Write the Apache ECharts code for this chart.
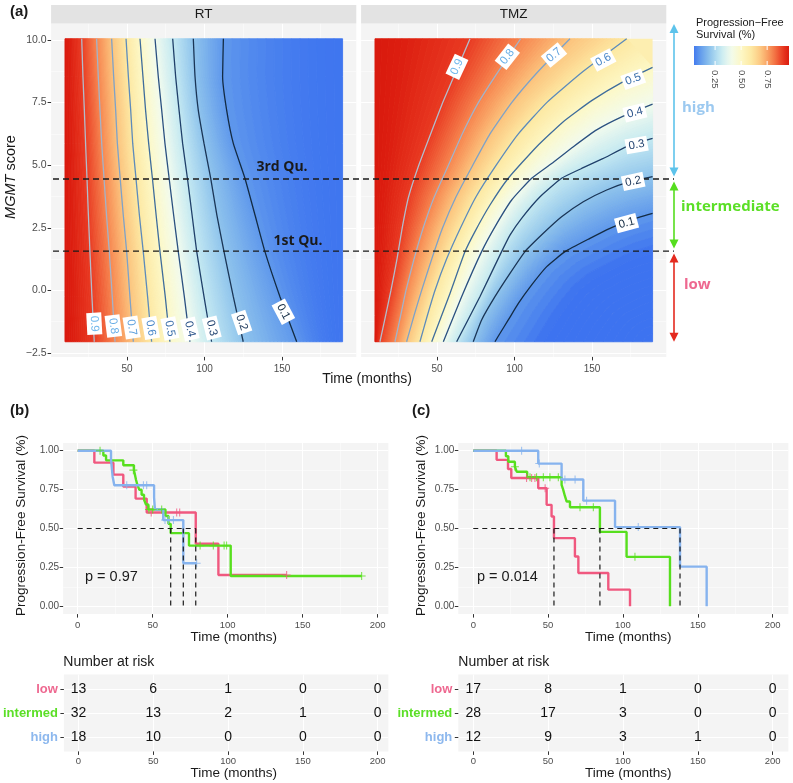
<!DOCTYPE html>
<html>
<head>
<meta charset="utf-8">
<script src="https://cdn.jsdelivr.net/npm/echarts@6.0.0/dist/echarts.min.js"></script>
<style>
html,body{margin:0;padding:0;background:#ffffff;}
#chart{width:793px;height:783px;}
</style>
</head>
<body>
<div id="chart"></div>
<script>
// ================= DATA =================
const contourLevels = [0.9, 0.8, 0.7, 0.6, 0.5, 0.4, 0.3, 0.2, 0.1];
const rasterX = [10, 189.1];            // months covered by the surface
const rasterY = [-2.05, 10.05];         // MGMT score covered by the surface
const rasterEdgeValues = [0.97, 0.04];  // survival at the far-left / far-right edge
const tmzCoreValue = 0.035;             // deepest blue in the TMZ low corner
const mgmtQuartiles = [1.57, 4.45];     // 1st Qu., 3rd Qu.

// RT panel: contour x (months) at shared MGMT rows
const rtRows = [10.05, 8.54, 7.2, 5.87, 4.48, 3.01, 1.55, -0.25, -2.05];
const rt90 = [20.8, 21.6, 22.5, 23.3, 24.2, 25.1, 26.1, 27.4, 28.9];
const rt80 = [30.4, 31.5, 32.6, 33.7, 35.2, 36.8, 38.6, 40.5, 42.3];
const rt70 = [40.1, 41.4, 42.7, 43.8, 45.6, 47.6, 49.8, 51.9, 54.1];
const rt60 = [49.4, 50.9, 52.4, 53.7, 55.8, 58.0, 60.5, 63.3, 65.9];
const rt50 = [58.4, 60.3, 62.0, 64.0, 66.4, 68.8, 71.3, 74.7, 77.7];
const rt40 = [68.1, 70.2, 72.4, 74.5, 77.2, 80.1, 83.1, 87.0, 90.6];
const rt30 = [79.5, 81.4, 83.6, 85.9, 89.0, 92.0, 95.0, 99.7, 104.6];
const rt20 = [92.8, 93.9, 96.0, 99.7, 104.0, 108.0, 112.6, 118.6, 125.0];
const rt10 = [112.2, 111.7, 114.3, 118.6, 126.1, 132.6, 139.0, 148.7, 159.5];

// TMZ panel: contour points [months, MGMT score]
const tmzRows = [10.05, 8.75, 7.5, 6.25, 4.99, 3.74, 2.51, 1.25, 0.0, -1.0, -2.05];
const tmz90x = [71.3, 62.3, 53.7, 45.9, 38.2, 31.7, 27.6, 24.2, 20.3, 16.9, 13.2];
const tmz80x = [104.0, 89.6, 76.7, 66.3, 57.3, 48.3, 41.2, 35.2, 30.0, 26.6, 22.9];
const tmz70x = [135.8, 115.4, 98.2, 84.2, 73.0, 62.3, 53.7, 46.6, 40.1, 35.2, 30.4];
const tmz60x = [172.4, 144.4, 120.8, 102.5, 88.1, 75.2, 65.3, 56.2, 48.7, 43.8, 39.0];
const tmz50 = [[189.1,8.91],[170.2,8.34],[149.8,7.58],[131.5,6.74],[114.3,5.74],[96.0,4.48],[84.2,3.41],[74.5,2.35],[68.1,1.55],[58.4,-0.12],[46.6,-2.05]];
const tmz40 = [[189.1,7.44],[170.2,6.96],[153.0,6.41],[138.0,5.74],[124.0,5.07],[111.1,4.48],[98.2,3.61],[87.4,2.54],[78.8,1.55],[65.9,-0.25],[54.1,-2.05]];
const tmz30 = [[189.1,6.07],[172.4,5.74],[157.3,5.27],[143.3,4.87],[130.4,4.48],[116.5,3.74],[104.6,2.88],[97.1,2.21],[91.7,1.55],[77.7,-0.25],[62.7,-2.05]];
const tmz20 = [[189.1,4.54],[174.5,4.34],[159.5,4.01],[144.4,3.54],[130.4,2.94],[118.6,2.28],[106.8,1.55],[97.1,0.68],[87.4,-0.25],[78.8,-1.18],[73.4,-2.05]];
const tmz10 = [[189.1,3.08],[174.5,2.81],[161.6,2.48],[148.7,2.08],[132.6,1.55],[120.8,0.95],[111.1,0.22],[102.5,-0.52],[96.0,-1.18],[90.6,-1.72],[87.4,-2.05]];

// contour label anchors [months, MGMT] and angles (deg)
const rtLabelPos = [[28.9,-1.33],[41.2,-1.42],[53.0,-1.48],[65.3,-1.50],[77.7,-1.52],[90.6,-1.54],[104.7,-1.50],[124.0,-1.28],[150.9,-0.85]];
const rtLabelAngle = [-87, -83, -81, -80, -79, -77, -76, -71, -62];
const tmzLabelPos = [[62.9,8.93],[95.4,9.33],[125.5,9.40],[157.3,9.20],[176.6,8.43],[177.7,7.10],[178.8,5.81],[176.6,4.35],[172.3,2.69]];
const tmzLabelAngle = [65, 52, 40, 28, 20, 14, 10, 12, 15];

// colour bar
const colorbarRange = [0.047, 0.96];
const colorbarTicks = [0.25, 0.5, 0.75];

// axis ticks
const mgmtTicks = [-2.5, 0, 2.5, 5, 7.5, 10];
const mgmtMinor = [-1.25, 1.25, 3.75, 6.25, 8.75];
const timeTicksA = [50, 100, 150];
const timeMinorA = [25, 75, 125, 175];
const timeTicksKM = [0, 50, 100, 150, 200];
const timeMinorKM = [25, 75, 125, 175];
const survTicks = [0, 0.25, 0.5, 0.75, 1];
const survMinor = [0.125, 0.375, 0.625, 0.875];

// Kaplan-Meier (b) RT
const groupNames = ['low', 'intermed', 'high'];
const kmRtLow  = [[0,1],[11.1,0.923],[23.8,0.846],[30.4,0.769],[38.6,0.692],[46,0.603],[78.7,0.402],[93.8,0.201],[139.3,0.201]];
const kmRtMid  = [[0,1],[17.1,0.969],[18.9,0.938],[30.4,0.906],[37.5,0.875],[38.2,0.843],[38.9,0.812],[39.8,0.78],[41.1,0.749],[42.6,0.717],[44.2,0.686],[45.5,0.654],[47.1,0.622],[58.5,0.58],[60.5,0.53],[62,0.47],[74.2,0.39],[102,0.195],[189.3,0.195]];
const kmRtHigh = [[0,1],[22.2,0.944],[23.3,0.833],[24.4,0.778],[50.9,0.7],[51.5,0.622],[57,0.554],[70.4,0.277],[79.3,0.277]];
const censRtLow  = [[49,0.603],[66,0.603],[68,0.603],[139.3,0.201]];
const censRtMid  = [[14.9,1],[37.1,0.875],[47.5,0.622],[50,0.622],[56,0.622],[81.6,0.39],[90.4,0.39],[97.6,0.39],[99.3,0.39],[189.3,0.195]];
const censRtHigh = [[32.7,0.778],[43.8,0.778],[46,0.778],[58.2,0.554],[60.4,0.554],[63.8,0.554],[79.3,0.277]];
const medRt = [78.7, 62, 70.4];
const riskTimes = [0, 50, 100, 150, 200];
const riskRtLow = [13, 6, 1, 0, 0];
const riskRtMid = [32, 13, 2, 1, 0];
const riskRtHigh = [18, 10, 0, 0, 0];
const pRt = 'p = 0.97';

// Kaplan-Meier (c) TMZ
const kmTmzLow  = [[0,1],[15.6,0.941],[23.2,0.882],[25.4,0.824],[43.4,0.759],[49,0.652],[52.3,0.577],[53.9,0.438],[67.9,0.32],[70.2,0.214],[90.2,0.107],[104.7,0]];
const kmTmzMid  = [[0,1],[21.8,0.964],[23.4,0.929],[27.8,0.897],[29,0.865],[36,0.829],[59,0.78],[60.1,0.748],[61.2,0.709],[62.4,0.673],[64.6,0.637],[84.6,0.478],[102.4,0.318],[131.4,0]];
const kmTmzHigh = [[0,1],[43.4,0.917],[59,0.815],[73.5,0.679],[94.7,0.509],[138.1,0.255],[155.9,0]];
const censTmzLow  = [[35.6,0.824],[39,0.824],[41.2,0.824],[48,0.759]];
const censTmzMid  = [[27.8,0.897],[37.9,0.829],[42.3,0.829],[46.8,0.829],[51.2,0.829],[56.8,0.829],[71.3,0.637],[80.2,0.637],[108,0.318]];
const censTmzHigh = [[32.3,1],[44.1,0.917],[61.2,0.815],[68,0.815],[75.7,0.679],[110.2,0.509]];
const medTmz = [53.9, 84.6, 138.1];
const riskTmzLow = [17, 8, 1, 0, 0];
const riskTmzMid = [28, 17, 3, 0, 0];
const riskTmzHigh = [12, 9, 3, 1, 0];
const pTmz = 'p = 0.014';

// ================= STYLE =================
const FONT = "'Liberation Sans', Arial, Helvetica, sans-serif";
const BOLDF = "'Open Sans', 'Liberation Sans', Arial, sans-serif";
const fillStops = [[0.00,'#366bf0'],[0.03,'#3a70f0'],[0.10,'#5f98ec'],[0.20,'#8fc4ec'],[0.30,'#c4e9f2'],
  [0.40,'#f2fbee'],[0.50,'#fdf8c6'],[0.60,'#fde8a2'],[0.70,'#fcc27c'],[0.80,'#f6844e'],
  [0.90,'#e93a22'],[0.95,'#dc1e10'],[1.00,'#d4140a']];
const contourLineColors = ['#b2bccb','#a3b3c9','#7ea2c8','#5d8bbb','#3f6d9c','#2b5180','#20406a','#1a3556','#132b43'];
const contourLabelColors = ['#6fb7ec','#66ade6','#5a9edc','#4b88c9','#3b6faa','#2c548a','#224370','#1b3659','#132b43'];
const groupColors = ['#F0587F', '#57DF1E', '#86B3EE'];
const groupLabelColors = ['#EE6890', '#5BDF26', '#8DB8EE'];
const arrowColors = ['#5DC3EB', '#55DD1E', '#E42A1F']; // high, intermediate, low
const axisYMaxA = 10.655, axisYMinA = -2.655;

function hexRgb(h){return [parseInt(h.slice(1,3),16),parseInt(h.slice(3,5),16),parseInt(h.slice(5,7),16)];}
function fillColor(v){
  v = Math.max(0, Math.min(1, v));
  for (let i = 0; i < fillStops.length - 1; i++) {
    const a = fillStops[i], b = fillStops[i+1];
    if (v <= b[0]) {
      const t = (v - a[0]) / (b[0] - a[0]);
      const ca = hexRgb(a[1]), cb = hexRgb(b[1]);
      return 'rgb(' + ca.map((x,k)=>Math.round(x + (cb[k]-x)*t)).join(',') + ')';
    }
  }
  return fillStops[fillStops.length-1][1];
}
function lin(x,y,x2,y2,stops){return {type:'linear',x:x,y:y,x2:x2,y2:y2,colorStops:stops,global:true};}

// fill the band between boundary A (value la) and boundary B (value lb) with thin solid strips
function stripBand(api, A, B, la, lb, n, ease){
  const PA = A.map(p=>api.coord(p)), PB = B.map(p=>api.coord(p));
  const at = s => PA.map((a,i)=>[a[0]+(PB[i][0]-a[0])*s, a[1]+(PB[i][1]-a[1])*s]);
  const kids = [];
  for (let j = 0; j < n; j++) {
    const s0 = j/n, s1 = (j+1)/n, sm = (j+0.5)/n;
    const e = ease ? ease(sm) : sm;
    const col = fillColor(la + (lb-la)*e);
    kids.push({type:'polygon', shape:{points: at(s0).concat(at(s1).reverse())},
      style:{fill:col, stroke:col, lineWidth:0.9}});
  }
  return kids;
}
const easeOut = s => 1 - (1-s)*(1-s);
const easeFast = s => Math.min(1, s/0.3);

// chains of boundaries for the surfaces
const rtContours = [rt90,rt80,rt70,rt60,rt50,rt40,rt30,rt20,rt10].map(xs=>xs.map((x,i)=>[x,rtRows[i]]));
const rtChain = [rtRows.map(y=>[rasterX[0],y])].concat(rtContours, [rtRows.map(y=>[rasterX[1],y])]);
const rtChainLv = [rasterEdgeValues[0]].concat(contourLevels, [rasterEdgeValues[1]]);
const tmzContours = [tmz90x,tmz80x,tmz70x,tmz60x].map(xs=>xs.map((x,i)=>[x,tmzRows[i]])).concat([tmz50,tmz40,tmz30,tmz20,tmz10]);
const tmzChain = [tmzRows.map(y=>[rasterX[0],y])].concat(tmzContours);
const tmzChainLv = [rasterEdgeValues[0]].concat(contourLevels);

// ================= AXES & GRIDS =================
const grids = [
  {left:51.1, top:23.6, width:305.2, height:333.3, show:true, backgroundColor:'#f4f4f4', borderWidth:0}, // 0 RT
  {left:361.1, top:23.6, width:305.2, height:333.3, show:true, backgroundColor:'#f4f4f4', borderWidth:0}, // 1 TMZ
  {left:53, top:23.6, width:621, height:333.3, show:false}, // 2 overlay
  {left:694, top:46, width:95, height:19, show:false}, // 3 colorbar
  {left:63.15, top:442.9, width:325.2, height:171.2, show:true, backgroundColor:'#f4f4f4', borderWidth:0}, // 4 KM b
  {left:63.15, top:674.6, width:325.2, height:76.8, show:true, backgroundColor:'#f4f4f4', borderWidth:0}, // 5 risk b
  {left:458.3, top:442.9, width:330.1, height:171.2, show:true, backgroundColor:'#f4f4f4', borderWidth:0}, // 6 KM c
  {left:458.3, top:674.6, width:330.1, height:76.8, show:true, backgroundColor:'#f4f4f4', borderWidth:0}  // 7 risk c
];
const xA = [], yA = [];
function axis(gridIndex,min,max,o){
  o = o || {};
  const a = {type:'value', gridIndex:gridIndex, min:min, max:max, inverse:!!o.inverse,
    axisLine:{show:false, onZero:false},
    axisTick:{show:!!o.showTicks, length:3.5, lineStyle:{color:'#333333', width:1}},
    axisLabel:{show:!!o.labels, color:'#4d4d4d', fontSize:o.fontSize||10, fontFamily:FONT, margin:o.margin||4, rotate:o.rotate||0},
    splitLine:{show:!!o.split, lineStyle:{color:'#ffffff', width:o.splitWidth||1}},
    minorTick:{show:false}, minorSplitLine:{show:false}};
  if (o.position) a.position = o.position;
  if (o.ticks) a.axisTick.customValues = o.ticks;
  if (o.labels) a.axisLabel.customValues = o.labels;
  if (o.formatter) a.axisLabel.formatter = o.formatter;
  if (o.rich) a.axisLabel.rich = o.rich;
  return a;
}
function addX(a){xA.push(a); return xA.length-1;}
function addY(a){yA.push(a); return yA.length-1;}
const fmtMgmt = v => (v < 0 ? '\u2212' : '') + Math.abs(v).toFixed(1);
const fmt2 = v => v.toFixed(2);

// panel (a)
const xRT = addX(axis(0,1.05,197.95,{ticks:timeTicksA,labels:timeTicksA,showTicks:true,split:true,margin:7,fontSize:10}));
const yRT = addY(axis(0,axisYMinA,axisYMaxA,{ticks:mgmtTicks,labels:mgmtTicks,showTicks:true,split:true,margin:4.5,fontSize:10.5,formatter:fmtMgmt}));
const xTZ = addX(axis(1,1.05,197.95,{ticks:timeTicksA,labels:timeTicksA,showTicks:true,split:true,margin:7,fontSize:10}));
const yTZ = addY(axis(1,axisYMinA,axisYMaxA,{ticks:mgmtTicks,split:true}));
addX(axis(0,1.05,197.95,{ticks:timeMinorA,split:true,splitWidth:0.5,position:'top'}));
addY(axis(0,axisYMinA,axisYMaxA,{ticks:mgmtMinor,split:true,splitWidth:0.5,position:'right'}));
addX(axis(1,1.05,197.95,{ticks:timeMinorA,split:true,splitWidth:0.5,position:'top'}));
addY(axis(1,axisYMinA,axisYMaxA,{ticks:mgmtMinor,split:true,splitWidth:0.5,position:'right'}));
const xOV = addX(axis(2,0,1,{}));
const yOV = addY(axis(2,axisYMinA,axisYMaxA,{}));
const xCB = addX(axis(3,colorbarRange[0],colorbarRange[1],{labels:colorbarTicks,rotate:-90,margin:5,fontSize:9.5,formatter:fmt2}));
const yCB = addY(axis(3,0,1,{}));
// panel (b)
const xKB = addX(axis(4,-9.7,207.1,{ticks:timeTicksKM,labels:timeTicksKM,showTicks:true,split:true,margin:6,fontSize:9.5}));
const yKB = addY(axis(4,-0.05,1.05,{ticks:survTicks,labels:survTicks,showTicks:true,split:true,margin:4,fontSize:10,formatter:fmt2}));
addX(axis(4,-9.7,207.1,{ticks:timeMinorKM,split:true,splitWidth:0.5,position:'top'}));
addY(axis(4,-0.05,1.05,{ticks:survMinor,split:true,splitWidth:0.5,position:'right'}));
const riskRich = {
  g1:{color:groupLabelColors[0],fontWeight:'bold',fontSize:13,fontFamily:FONT},
  g2:{color:groupLabelColors[1],fontWeight:'bold',fontSize:13,fontFamily:FONT},
  g3:{color:groupLabelColors[2],fontWeight:'bold',fontSize:13,fontFamily:FONT}};
const fmtGroup = v => '{g' + v + '|' + groupNames[v-1] + '}';
const xRB = addX(axis(5,-9.7,207.1,{ticks:timeTicksKM,labels:timeTicksKM,showTicks:true,split:true,margin:5,fontSize:9.5}));
const yRB = addY(axis(5,0.4,3.6,{inverse:true,ticks:[1,2,3],labels:[1,2,3],showTicks:true,split:true,margin:6,formatter:fmtGroup,rich:riskRich}));
// panel (c)
const xKC = addX(axis(6,-10,210.5,{ticks:timeTicksKM,labels:timeTicksKM,showTicks:true,split:true,margin:6,fontSize:9.5}));
const yKC = addY(axis(6,-0.05,1.05,{ticks:survTicks,labels:survTicks,showTicks:true,split:true,margin:4,fontSize:10,formatter:fmt2}));
addX(axis(6,-10,210.5,{ticks:timeMinorKM,split:true,splitWidth:0.5,position:'top'}));
addY(axis(6,-0.05,1.05,{ticks:survMinor,split:true,splitWidth:0.5,position:'right'}));
const xRC = addX(axis(7,-10,210.5,{ticks:timeTicksKM,labels:timeTicksKM,showTicks:true,split:true,margin:5,fontSize:9.5}));
const yRC = addY(axis(7,0.4,3.6,{inverse:true,ticks:[1,2,3],labels:[1,2,3],showTicks:true,split:true,margin:6,formatter:fmtGroup,rich:riskRich}));

// ================= SERIES =================
const series = [];
// RT surface
series.push({type:'custom', xAxisIndex:xRT, yAxisIndex:yRT, silent:true, z:1,
  data: rtChain.slice(1).map((_,k)=>[k]),
  renderItem:(params,api)=>{
    const k = params.dataIndex;
    const ease = (k === rtChain.length-2) ? easeOut : null;
    return {type:'group',children:stripBand(api,rtChain[k],rtChain[k+1],rtChainLv[k],rtChainLv[k+1],14,ease)};
  }});
// TMZ surface
series.push({type:'custom', xAxisIndex:xTZ, yAxisIndex:yTZ, silent:true, z:1, data:[[0]],
  renderItem:(params,api)=>{
    const kids=[];
    const p0=api.coord([rasterX[0],rasterY[1]]), p1=api.coord([rasterX[1],rasterY[0]]);
    kids.push({type:'rect',shape:{x:p0[0],y:p0[1],width:p1[0]-p0[0],height:p1[1]-p0[1]},style:{fill:fillColor(0.56)}});
    for (let k=0;k<tmzChain.length-1;k++) kids.push.apply(kids, stripBand(api,tmzChain[k],tmzChain[k+1],tmzChainLv[k],tmzChainLv[k+1],14,null));
    const corner = tmz10.map(()=>[rasterX[1],rasterY[0]]);
    kids.push.apply(kids, stripBand(api, tmz10, corner, 0.1, tmzCoreValue, 16, easeFast));
    return {type:'group',children:kids};
  }});
// contour lines
rtContours.forEach((c,k)=>series.push({type:'line',xAxisIndex:xRT,yAxisIndex:yRT,data:c,symbol:'none',smooth:0.15,silent:true,z:3,
  lineStyle:{color:contourLineColors[k],width:1.3}}));
tmzContours.forEach((c,k)=>series.push({type:'line',xAxisIndex:xTZ,yAxisIndex:yTZ,data:c,symbol:'none',smooth:0.15,silent:true,z:3,
  lineStyle:{color:contourLineColors[k],width:1.3}}));
// contour labels
function labelSeries(xi, yi, pos, ang){
  return {type:'custom', xAxisIndex:xi, yAxisIndex:yi, silent:true, z:6,
    data: pos.map((p,k)=>[p[0],p[1],k]),
    renderItem:(params,api)=>{
      const k=api.value(2); const pt=api.coord([api.value(0),api.value(1)]);
      return {type:'text', x:pt[0], y:pt[1], rotation: ang[k]*Math.PI/180,
        style:{text:contourLevels[k].toFixed(1), fill:contourLabelColors[k], fontSize:11.5, fontFamily:FONT,
          align:'center', verticalAlign:'middle', backgroundColor:'#ffffff', padding:[2,3,1,3]}};
    }};
}
series.push(labelSeries(xRT,yRT,rtLabelPos,rtLabelAngle));
series.push(labelSeries(xTZ,yTZ,tmzLabelPos,tmzLabelAngle));
// quartile dashed lines
mgmtQuartiles.forEach(q=>series.push({type:'line',xAxisIndex:xOV,yAxisIndex:yOV,data:[[0,q],[1,q]],symbol:'none',silent:true,z:5,
  lineStyle:{color:'#1a1a1a',width:1.3,type:[6,4]}}));
// group arrows
const arrowSpans = [[mgmtQuartiles[1], axisYMaxA], [mgmtQuartiles[0], mgmtQuartiles[1]], [rasterY[0], mgmtQuartiles[0]]];
series.push({type:'custom', xAxisIndex:xOV, yAxisIndex:yOV, silent:true, z:7,
  data: arrowSpans.map((s,k)=>[1, s[0], s[1], k]),
  renderItem:(params,api)=>{
    const k=api.value(3);
    const lo=api.value(1), hi=api.value(2);
    const pTop=api.coord([1,hi]), pBot=api.coord([1,lo]);
    const x=pTop[0];
    const top=pTop[1]+(mgmtQuartiles.indexOf(hi)>=0?2.5:0.5);
    const bot=pBot[1]-(mgmtQuartiles.indexOf(lo)>=0?2.5:0);
    const c=arrowColors[k];
    return {type:'group',children:[
      {type:'line',shape:{x1:x,y1:top+6,x2:x,y2:bot-6},style:{stroke:c,lineWidth:1.6}},
      {type:'polygon',shape:{points:[[x,top],[x-4.5,top+9],[x+4.5,top+9]]},style:{fill:c}},
      {type:'polygon',shape:{points:[[x,bot],[x-4.5,bot-9],[x+4.5,bot-9]]},style:{fill:c}}
    ]};
  }});
// colour bar
series.push({type:'custom', xAxisIndex:xCB, yAxisIndex:yCB, silent:true, z:3, data:[[0]],
  renderItem:(params,api)=>{
    const a=api.coord([colorbarRange[0],1]), b=api.coord([colorbarRange[1],0]);
    const stops=[]; for(let i=0;i<=20;i++){const t=i/20; stops.push({offset:t,color:fillColor(colorbarRange[0]+t*(colorbarRange[1]-colorbarRange[0]))});}
    const kids=[{type:'rect',shape:{x:a[0],y:a[1],width:b[0]-a[0],height:b[1]-a[1]},style:{fill:lin(a[0],0,b[0],0,stops)}}];
    colorbarTicks.forEach(v=>{const p=api.coord([v,0]);
      kids.push({type:'line',shape:{x1:p[0],y1:a[1],x2:p[0],y2:a[1]+4},style:{stroke:'#ffffff',lineWidth:1}});
      kids.push({type:'line',shape:{x1:p[0],y1:b[1]-4,x2:p[0],y2:b[1]},style:{stroke:'#ffffff',lineWidth:1}});});
    return {type:'group',children:kids};
  }});
// KM panels
const plusSymbol = 'path://M-1,-0.13L1,-0.13L1,0.13L-1,0.13Z M-0.13,-1L0.13,-1L0.13,1L-0.13,1Z';
function kmPanel(xi, yi, curves, cens, meds, risks, xr, yr){
  curves.forEach((d,k)=>series.push({type:'line',xAxisIndex:xi,yAxisIndex:yi,data:d,step:'end',symbol:'none',silent:true,z:3,
    lineStyle:{color:groupColors[k],width:2.4}}));
  cens.forEach((d,k)=>series.push({type:'scatter',xAxisIndex:xi,yAxisIndex:yi,data:d,symbol:plusSymbol,symbolSize:8,silent:true,z:4,
    itemStyle:{color:groupColors[k]}}));
  const mMax = Math.max.apply(null, meds);
  const dash = {color:'#1a1a1a',width:1.2,type:[5,4]};
  series.push({type:'line',xAxisIndex:xi,yAxisIndex:yi,data:[[0,0.5],[mMax,0.5]],symbol:'none',silent:true,z:5,lineStyle:dash});
  meds.forEach(m=>series.push({type:'line',xAxisIndex:xi,yAxisIndex:yi,data:[[m,0.5],[m,0]],symbol:'none',silent:true,z:5,lineStyle:dash}));
  const cells=[]; risks.forEach((r,g)=>r.forEach((n,i)=>cells.push([riskTimes[i], g+1, n])));
  series.push({type:'custom',xAxisIndex:xr,yAxisIndex:yr,silent:true,z:8,data:cells,
    renderItem:(params,api)=>{const p=api.coord([api.value(0),api.value(1)]);
      return {type:'text',x:p[0],y:p[1],style:{text:String(api.value(2)),fill:'#111111',fontSize:14,fontFamily:FONT,align:'center',verticalAlign:'middle'}};}});
}
kmPanel(xKB,yKB,[kmRtLow,kmRtMid,kmRtHigh],[censRtLow,censRtMid,censRtHigh],medRt,[riskRtLow,riskRtMid,riskRtHigh],xRB,yRB);
kmPanel(xKC,yKC,[kmTmzLow,kmTmzMid,kmTmzHigh],[censTmzLow,censTmzMid,censTmzHigh],medTmz,[riskTmzLow,riskTmzMid,riskTmzHigh],xRC,yRC);

// ================= TEXT / DECORATION =================
function txt(x,y,text,o){
  o=o||{};
  return {type:'text', x:x, y:y, rotation:o.rotation||0, z:20, silent:true,
    style:Object.assign({text:text, fill:o.color||'#1a1a1a', fontSize:o.size||14, fontFamily:o.family||FONT,
      fontWeight:o.weight||'normal', align:o.align||'center', verticalAlign:'middle'}, o.extra||{})};
}
const graphic = [
  {type:'rect', z:1, silent:true, shape:{x:51.1,y:5,width:305.2,height:18.6}, style:{fill:'#e3e3e3'}},
  {type:'rect', z:1, silent:true, shape:{x:361.1,y:5,width:305.2,height:18.6}, style:{fill:'#e3e3e3'}},
  txt(203.7,14.5,'RT',{size:13.5}),
  txt(513.7,14.5,'TMZ',{size:13.5}),
  txt(10,12,'(a)',{size:15,weight:'bold',align:'left'}),
  txt(10,411,'(b)',{size:15,weight:'bold',align:'left'}),
  txt(412,411,'(c)',{size:15,weight:'bold',align:'left'}),
  txt(11,177,'{i|MGMT} score',{size:14.5,rotation:Math.PI/2,extra:{rich:{i:{fontStyle:'italic',fontSize:14.5,fontFamily:FONT,fill:'#1a1a1a'}}}}),
  txt(367,379,'Time (months)',{size:14}),
  txt(282,167.5,'3rd Qu.',{size:14,weight:'bold',family:BOLDF}),
  txt(298,241,'1st Qu.',{size:14,weight:'bold',family:BOLDF}),
  txt(696,22.5,'Progression\u2212Free',{size:11,align:'left'}),
  txt(696,35,'Survival (%)',{size:11,align:'left'}),
  txt(682,108,'high',{size:15,weight:'bold',family:BOLDF,align:'left',color:'#9CC9F0'}),
  txt(681,207,'intermediate',{size:15,weight:'bold',family:BOLDF,align:'left',color:'#5BDF26'}),
  txt(684,285,'low',{size:15,weight:'bold',family:BOLDF,align:'left',color:'#EE6890'}),
  txt(21,525.5,'Progression-Free Survival (%)',{size:13.5,rotation:Math.PI/2}),
  txt(421,525.5,'Progression-Free Survival (%)',{size:13.5,rotation:Math.PI/2}),
  txt(233.7,637.3,'Time (months)',{size:13.5}),
  txt(628.3,637.3,'Time (months)',{size:13.5}),
  txt(63.3,662,'Number at risk',{size:14,align:'left'}),
  txt(458.3,662,'Number at risk',{size:14,align:'left'}),
  txt(233.7,773,'Time (months)',{size:13.5}),
  txt(628.3,773,'Time (months)',{size:13.5}),
  txt(85,577,pRt,{size:14.5,align:'left'}),
  txt(477,577,pTmz,{size:14.5,align:'left'})
];

const chart = echarts.init(document.getElementById('chart'), null, {renderer:'canvas'});
chart.setOption({
  backgroundColor:'#ffffff',
  animation:false,
  grid:grids,
  xAxis:xA,
  yAxis:yA,
  series:series,
  graphic:graphic
});
</script>
</body>
</html>
